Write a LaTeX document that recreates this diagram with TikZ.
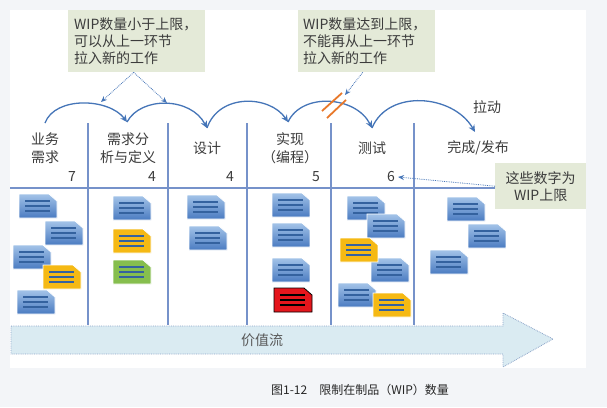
\documentclass[tikz,border=0pt]{standalone}
\usepackage{fontspec}
\setmainfont{Noto Sans CJK SC}
\usetikzlibrary{arrows.meta}

\definecolor{pagegray}{HTML}{F3F5F8}
\definecolor{textgray}{HTML}{3C3C3C}
\definecolor{notegreen}{HTML}{E4EAD8}
\definecolor{flowblue}{HTML}{4575B8}
\definecolor{gridblue}{HTML}{7692CA}
\definecolor{slashorange}{HTML}{E8782A}
\definecolor{streamfill}{HTML}{DAEBF2}
\definecolor{streamedge}{HTML}{8DA5C9}
\definecolor{cbt}{HTML}{A3C3E8}
\definecolor{cbb}{HTML}{4A7BC1}
\definecolor{cbl}{HTML}{34629F}
\definecolor{cyel}{HTML}{F5B914}
\definecolor{cgrn}{HTML}{86BE4E}
\definecolor{cred}{HTML}{E5161C}

\begin{document}
\begin{tikzpicture}[x=1pt, y=-1pt,
    txt/.style={text=textgray, font=\fontsize{14}{17.5}\selectfont, align=center, inner sep=0pt},
    note/.style={fill=notegreen, text=textgray, font=\fontsize{14}{17}\selectfont, inner sep=0pt},
    flow/.style={draw=flowblue, line width=1.3pt, -{Stealth[length=7pt, width=6.5pt]}},
    hint/.style={draw=flowblue, densely dotted, line width=0.8pt, -{Stealth[length=6pt, width=5pt]}},
    grid/.style={draw=gridblue, line width=1.2pt},
    slash/.style={draw=slashorange, line width=1.8pt},
    pics/card/.style args={#1/#2/#3/#4}{code={
        \path[top color=#1, bottom color=#2, draw=#3, line width=0.8pt]
            (0,0) -- (30,0) -- (38,7) -- (38,24) -- (0,24) -- cycle;
        \foreach \ly in {7,12,17}
            \draw[#4, line width=1.2pt] (6,\ly) -- (31,\ly);
    }}
  ]
    % --- 背景 ---
    \useasboundingbox[fill=pagegray] (0,0) rectangle (607,407);
    \fill[white] (10,10) rectangle (586,368);

    % --- 列の区切り線 ---
    \draw[grid] (10,188) -- (495,188);
    \foreach \xpos in {88, 168, 247, 331, 414} {
        \draw[grid] (\xpos,123) -- (\xpos,325);
    }

    % --- 列の見出しとWIP上限 ---
    \node[txt] (h0) at (45,148) {业务\\需求};
    \node[txt] (h1) at (128,148) {需求分\\析与定义};
    \node[txt] (h2) at (207,148) {设计};
    \node[txt] (h3) at (290,148) {实现\\（编程）};
    \node[txt] (h4) at (372,148) {测试};
    \node[txt] (h5) at (478,148) {完成/发布};

    \node[txt] (n0) at (72,177) {7};
    \node[txt] (n1) at (152,177) {4};
    \node[txt] (n2) at (230,177) {4};
    \node[txt] (n3) at (316,177) {5};
    \node[txt] (n4) at (391,177) {6};

    % --- 拉動の矢印 ---
    \coordinate (p0) at (45,123);
    \coordinate (p1) at (127,122);
    \coordinate (p2) at (207,128);
    \coordinate (p3) at (288,122);
    \coordinate (p4) at (372,128);
    \coordinate (p5) at (475,132);
    \draw[flow] (p0) .. controls +(10,-27) and +(-18,-24) .. (p1);
    \draw[flow] (p1) .. controls +(14,-26) and +(-16,-31) .. (p2);
    \draw[flow] (p2) .. controls +(12,-35) and +(-18,-27) .. (p3);
    \draw[flow] (p3) .. controls +(14,-30) and +(-16,-32) .. (p4);
    \draw[flow] (p4) .. controls +(16,-39) and +(-22,-38) .. (p5);
    \node[txt] (pull) at (487,107) {拉动};

    % 上限に達したので引けない
    \draw[slash] (322,111) -- (342,93);
    \draw[slash] (327,118) -- (346,100);

    % --- 吹き出し ---
    \node[note, anchor=north west, minimum width=137, minimum height=62,
          text width=125, align=left, inner xsep=6] (tip1) at (68,10)
          {WIP数量小于上限，\\可以从上一环节\\拉入新的工作};
    \node[note, anchor=north west, minimum width=137, minimum height=62,
          text width=127, align=left, inner xsep=5] (tip2) at (298,10)
          {WIP数量达到上限，\\不能再从上一环节\\拉入新的工作};
    \node[note, anchor=north west, minimum width=91, minimum height=46,
          align=center] (tip3) at (495,163) {这些数字为\\WIP上限};

    \coordinate (d1) at (101,102);
    \coordinate (d2) at (167,103);
    \coordinate (d3) at (345,95);
    \draw[hint] ([xshift=-3]tip1.south) -- (d1);
    \draw[hint] ([xshift=-3]tip1.south) -- (d2);
    \draw[hint] ([xshift=-4]tip2.south) -- (d3);
    \draw[hint] (tip3.west) -- ([xshift=3]n4.east);

    % --- 作業カード ---
    \foreach \px/\py in {19/194, 45/221, 13/245, 17/290, 113/196,
                         187/195, 189/226, 272/193, 272/223, 272/258,
                         347/196, 367/214, 371/258, 338/283,
                         447/197, 468/224, 430/250} {
        \pic at (\px,\py) {card=cbt/cbb/white/cbl};
    }
    \foreach \px/\py in {43/265, 113/229, 340/238, 373/293} {
        \pic at (\px,\py) {card=cyel/cyel/white/cbl};
    }
    \pic at (113,260) {card=cgrn/cgrn/white/cbl};
    \pic at (274,288) {card=cred/cred/black/black};

    % --- 価値の流れ ---
    \draw[fill=streamfill, draw=streamedge, densely dotted, line width=0.8pt]
        (11,326) -- (503,326) -- (503,313) -- (553,339) -- (503,367)
        -- (503,354) -- (11,354) -- cycle;
    \node[txt, text=textgray!85] (vs) at (262,340) {价值流};

    % --- 図のキャプション ---
    \node[text=black!85, font=\fontsize{12}{14}\selectfont, inner sep=0pt] (cap)
        at (360,390) {图1-12\quad 限制在制品（WIP）数量};
\end{tikzpicture}
\end{document}
